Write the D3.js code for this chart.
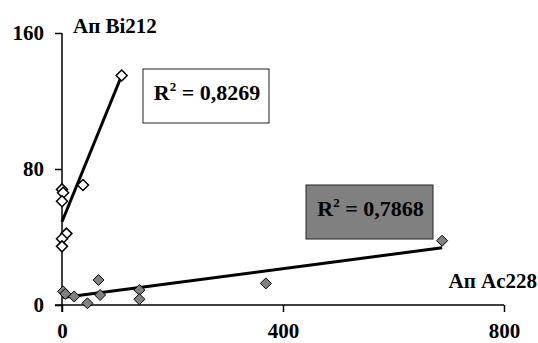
<!DOCTYPE html>
<html>
<head>
<meta charset="utf-8">
<script src="https://cdn.jsdelivr.net/npm/d3@7"></script>
<style>
  html, body { margin: 0; padding: 0; background: #fff; }
  svg text { font-family: "Liberation Serif", "Times New Roman", serif; font-weight: bold; }
</style>
</head>
<body>
<div id="chart"></div>
<script>
// Bi212 points (hollow diamonds)
const biX = [108, 38, 0, 2, 0, 8, 0, 0]
const biY = [135, 70.6, 68, 66, 61, 42, 39, 34.5]
// Ac228 points (gray diamonds)
const acX = [2, 6, 22, 46, 66, 69, 140, 140, 369, 688]
const acY = [8, 6.5, 5, 1, 14.7, 5.9, 8.8, 3.4, 12.7, 37.8]
// trend lines: [intercept, slope]
const biTrend = [49, 0.796]
const acTrend = [4.3, 0.0427]
const r2Labels = ["0,8269", "0,7868"]
const xTicks = [0, 400, 800]
const yTicks = [0, 80, 160]

const width = 538
const height = 343

const svg = d3.select("#chart")
  .append("svg")
  .attr("width", width)
  .attr("height", height)

const x = d3.scaleLinear().domain([0, 800]).range([62, 504])
const y = d3.scaleLinear().domain([0, 160]).range([305, 33])

// Axes
const xAxis = svg.append("g")
  .attr("transform", `translate(0,${y(0)})`)
  .call(d3.axisBottom(x).tickValues(xTicks).tickSize(7).tickPadding(11).tickSizeOuter(0))
xAxis.select(".domain").attr("stroke", "#000").attr("stroke-width", 1.5)
  .attr("d", `M${x(0) - 7},0H${x(800)}`)
xAxis.selectAll(".tick line").attr("stroke", "#000").attr("stroke-width", 1.5)
xAxis.selectAll("text").attr("fill", "#000").attr("font-size", "21px")

const yAxis = svg.append("g")
  .attr("transform", `translate(${x(0)},0)`)
  .call(d3.axisLeft(y).tickValues(yTicks).tickSize(7).tickPadding(11).tickSizeOuter(0))
yAxis.select(".domain").attr("stroke", "#000").attr("stroke-width", 1.5)
  .attr("d", `M0,${y(160)}V${y(0) + 7}`)
yAxis.selectAll(".tick line").attr("stroke", "#000").attr("stroke-width", 1.5)
yAxis.selectAll("text").attr("fill", "#000").attr("font-size", "21px")

// Trend lines (span of each series' x range)
function trend(xs, coef) {
  const lo = d3.min(xs), hi = d3.max(xs)
  return [[lo, coef[0] + coef[1] * lo], [hi, coef[0] + coef[1] * hi]]
}
const line = d3.line().x(d => x(d[0])).y(d => y(d[1]))

svg.append("path").datum(trend(acX, acTrend))
  .attr("d", line).attr("stroke", "#000").attr("stroke-width", 3).attr("fill", "none")
svg.append("path").datum(trend(biX, biTrend))
  .attr("d", line).attr("stroke", "#000").attr("stroke-width", 3).attr("fill", "none")

// Diamonds
const diamond = "M0,-5.5L5.5,0L0,5.5L-5.5,0Z"
svg.append("g").selectAll("path")
  .data(acX.map((v, i) => [v, acY[i]]))
  .join("path")
  .attr("d", diamond)
  .attr("transform", d => `translate(${x(d[0])},${y(d[1])})`)
  .attr("fill", "#808080").attr("stroke", "#000").attr("stroke-width", 1)

svg.append("g").selectAll("path")
  .data(biX.map((v, i) => [v, biY[i]]))
  .join("path")
  .attr("d", diamond)
  .attr("transform", d => `translate(${x(d[0])},${y(d[1])})`)
  .attr("fill", "#fff").attr("stroke", "#000").attr("stroke-width", 1.5)

// Series labels
svg.append("text").attr("x", 73).attr("y", 33)
  .attr("font-size", "21px").text("Ап Bi212")
svg.append("text").attr("x", 537).attr("y", 288).attr("text-anchor", "end")
  .attr("font-size", "21px").text("Ап Ac228")

// R² boxes
const boxes = [
  { x0: 143, y0: 69, w: 126, h: 54, fill: "#fff" },
  { x0: 306, y0: 185, w: 127, h: 54, fill: "#808080" }
]
boxes.forEach((b, i) => {
  svg.append("rect")
    .attr("x", b.x0).attr("y", b.y0).attr("width", b.w).attr("height", b.h)
    .attr("fill", b.fill).attr("stroke", "#222").attr("stroke-width", 1)
  const t = svg.append("text")
    .attr("x", b.x0 + b.w / 2 + 1).attr("y", b.y0 + 31)
    .attr("text-anchor", "middle").attr("font-size", "22px")
  t.append("tspan").text("R")
  t.append("tspan").attr("font-size", "13px").attr("dy", -9).text("2")
  t.append("tspan").attr("dy", 9).text(" = " + r2Labels[i])
})
</script>
</body>
</html>
